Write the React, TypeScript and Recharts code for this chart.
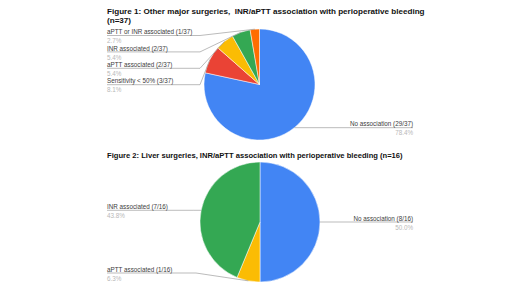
import { PieChart, Pie, Cell } from "recharts";

const fig1Names = [
  "No association",
  "Sensitivity < 50%",
  "aPTT associated",
  "INR associated",
  "aPTT or INR associated",
];
const fig1Counts = [29, 3, 2, 2, 1];
const fig1Colors = ["#4285f4", "#ea4335", "#fbbc04", "#34a853", "#ff6d01"];

const fig2Names = ["No association", "aPTT associated", "INR associated"];
const fig2Counts = [8, 1, 7];
const fig2Colors = ["#4285f4", "#fbbc04", "#34a853"];

const FONT = '"Liberation Sans", Arial, sans-serif';
const ROW = 16.4;

// label rows: start near the slice midpoint, then push apart so they don't overlap
function layoutRows(counts: number[], cx: number, cy: number, r: number) {
  const total = counts.reduce((a, b) => a + b, 0);
  let acc = 0;
  const items = counts.map((c, i) => {
    const theta = ((acc + c / 2) / total) * 2 * Math.PI; // clockwise from top
    acc += c;
    const x = cx + r * Math.sin(theta);
    const y = cy - r * Math.cos(theta);
    return { i, side: x >= cx ? "right" : "left", y };
  });
  const rows: Record<number, number> = {};
  const minY = cy - r + 6.5;
  const maxY = cy + r - 9;
  (["left", "right"] as const).forEach((side) => {
    const list = items
      .filter((it) => it.side === side)
      .sort((a, b) => a.y - b.y)
      .map((it) => ({ i: it.i, y: Math.min(Math.max(it.y, minY), maxY) }));
    for (let k = 1; k < list.length; k++) {
      if (list[k].y < list[k - 1].y + ROW) list[k].y = list[k - 1].y + ROW;
    }
    for (let k = list.length - 1; k >= 0; k--) {
      const lim = k === list.length - 1 ? maxY : list[k + 1].y - ROW;
      if (list[k].y > lim) list[k].y = lim;
    }
    list.forEach((it) => (rows[it.i] = it.y));
  });
  return rows;
}

function makeLabel(names: string[], counts: number[], rows: Record<number, number>) {
  const total = counts.reduce((a, b) => a + b, 0);
  return (props: any) => {
    const { cx, cy, midAngle, outerRadius, index, percent } = props;
    const RAD = Math.PI / 180;
    const px = cx + outerRadius * Math.cos(-midAngle * RAD);
    const py = cy + outerRadius * Math.sin(-midAngle * RAD);
    const left = px < cx;
    const ly = rows[index];
    const textX = left ? 107 : 413;
    const elbowX = left
      ? Math.min(cx - outerRadius - 4, px - 8)
      : Math.max(cx + outerRadius + 4, px + 8);
    return (
      <g>
        <polyline
          points={`${textX},${ly} ${elbowX},${ly} ${px},${py}`}
          fill="none"
          stroke="#9e9e9e"
          strokeWidth={0.7}
        />
        <text
          x={textX}
          y={ly - 1.3}
          textAnchor={left ? "start" : "end"}
          fontFamily={FONT}
          fontSize={6.3}
          fill="#3c3c3c"
        >
          {`${names[index]} (${counts[index]}/${total})`}
        </text>
        <text
          x={textX}
          y={ly + 7.6}
          textAnchor={left ? "start" : "end"}
          fontFamily={FONT}
          fontSize={6.3}
          fill="#b8b8b8"
        >
          {`${(percent * 100).toFixed(1)}%`}
        </text>
      </g>
    );
  };
}

const titleStyle = {
  position: "absolute" as const,
  left: 107,
  fontFamily: FONT,
  fontWeight: "bold" as const,
  fontSize: 7.6,
  lineHeight: "9px",
  color: "#111",
  whiteSpace: "nowrap" as const,
};

export default function App() {
  const fig1 = fig1Names.map((name, i) => ({ name, value: fig1Counts[i] }));
  const fig2 = fig2Names.map((name, i) => ({ name, value: fig2Counts[i] }));
  const rows1 = layoutRows(fig1Counts, 259.5, 84.5, 55.5);
  const rows2 = layoutRows(fig2Counts, 260, 222, 60);

  return (
    <div
      style={{
        position: "absolute",
        left: 0,
        top: 0,
        width: 520,
        height: 284,
        background: "#fff",
      }}
    >
      <PieChart width={520} height={284} margin={{ top: 0, right: 0, bottom: 0, left: 0 }}>
        <Pie
          data={fig1}
          dataKey="value"
          nameKey="name"
          cx={259.5}
          cy={84.5}
          outerRadius={55.5}
          startAngle={90}
          endAngle={-270}
          stroke="#fff"
          strokeWidth={0.5}
          labelLine={false}
          label={makeLabel(fig1Names, fig1Counts, rows1)}
          isAnimationActive={false}
        >
          {fig1.map((d, i) => (
            <Cell key={d.name} fill={fig1Colors[i]} />
          ))}
        </Pie>
        <Pie
          data={fig2}
          dataKey="value"
          nameKey="name"
          cx={260}
          cy={222}
          outerRadius={60}
          startAngle={90}
          endAngle={-270}
          stroke="#fff"
          strokeWidth={0.5}
          labelLine={false}
          label={makeLabel(fig2Names, fig2Counts, rows2)}
          isAnimationActive={false}
        >
          {fig2.map((d, i) => (
            <Cell key={d.name} fill={fig2Colors[i]} />
          ))}
        </Pie>
      </PieChart>
      <div style={{ ...titleStyle, top: 6.5, fontSize: 8.1 }}>
        Figure 1: Other major surgeries,&nbsp; INR/aPTT association with perioperative bleeding
        <br />
        (n=37)
      </div>
      <div style={{ ...titleStyle, top: 150.5 }}>
        Figure 2: Liver surgeries, INR/aPTT association with perioperative bleeding (n=16)
      </div>
    </div>
  );
}
